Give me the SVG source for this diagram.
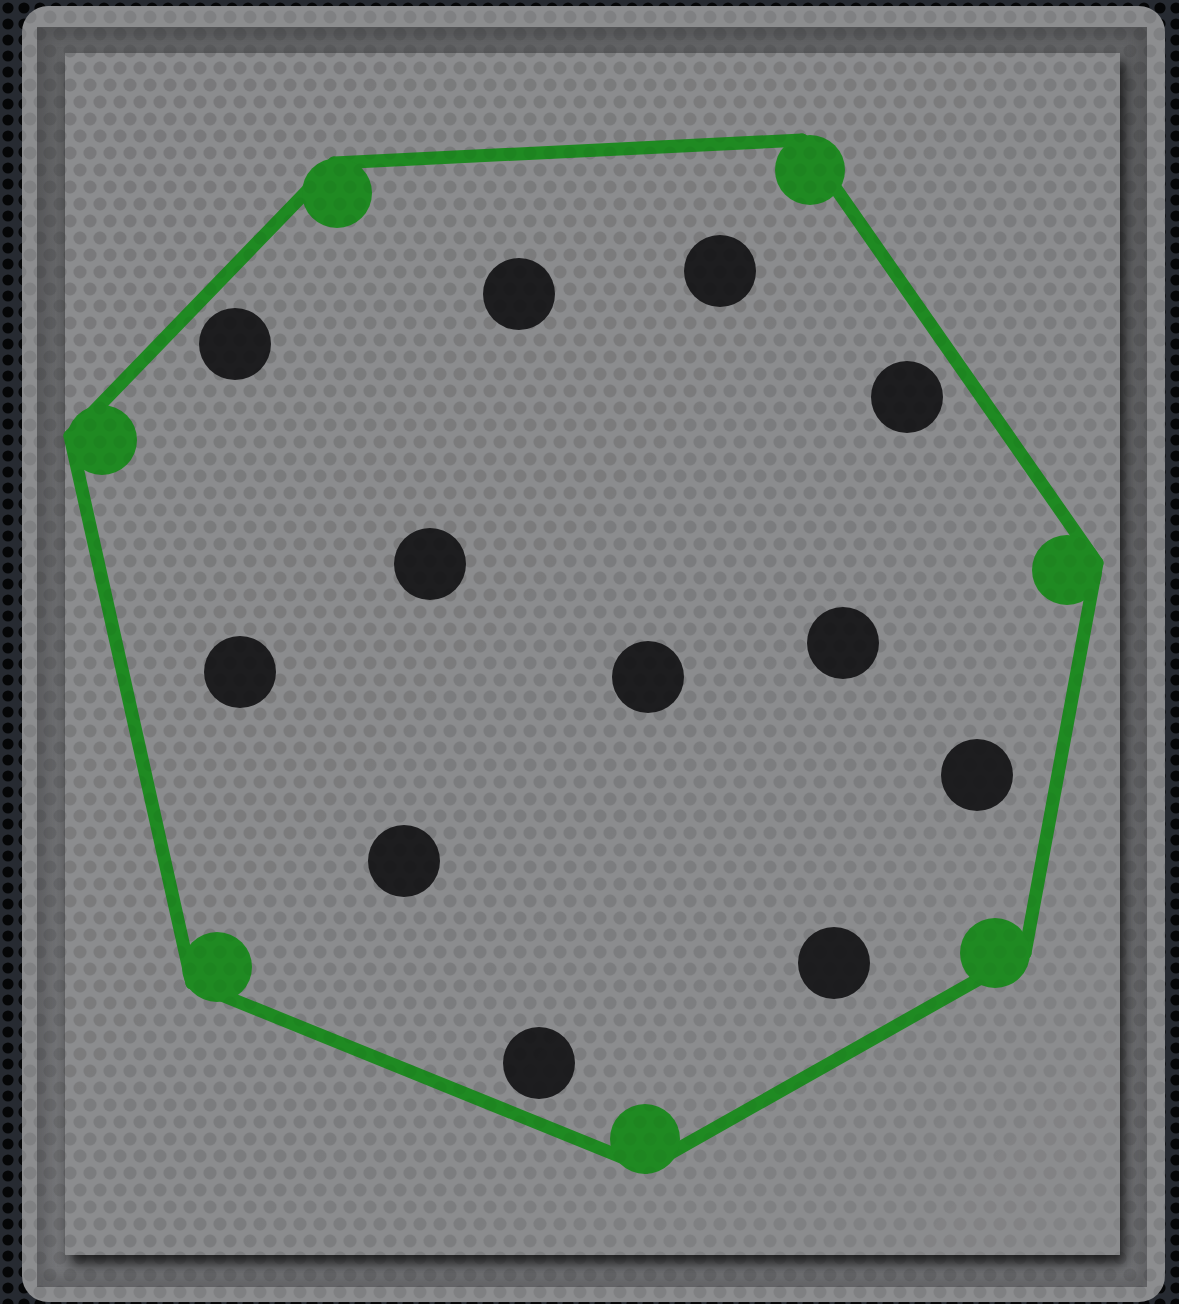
<svg xmlns="http://www.w3.org/2000/svg" width="1179" height="1304" viewBox="0 0 1179 1304">
  <defs>
    <pattern id="holes" width="16" height="16" patternUnits="userSpaceOnUse">
      <rect width="16" height="16" fill="#262a31"/>
      <circle cx="8" cy="8" r="5.6" fill="#050607"/>
    </pattern>
    <pattern id="dimples" width="20" height="34" patternUnits="userSpaceOnUse">
      <circle cx="0" cy="0" r="6.5" fill="#000" fill-opacity="0.09"/>
      <circle cx="20" cy="0" r="6.5" fill="#000" fill-opacity="0.09"/>
      <circle cx="10" cy="17" r="6.5" fill="#000" fill-opacity="0.09"/>
      <circle cx="0" cy="34" r="6.5" fill="#000" fill-opacity="0.09"/>
      <circle cx="20" cy="34" r="6.5" fill="#000" fill-opacity="0.09"/>
    </pattern>
    <linearGradient id="fade" x1="0" y1="0" x2="1" y2="1">
      <stop offset="0" stop-color="#fff" stop-opacity="1"/>
      <stop offset="0.6" stop-color="#fff" stop-opacity="0.8"/>
      <stop offset="1" stop-color="#fff" stop-opacity="0.35"/>
    </linearGradient>
    <mask id="fadeMask">
      <rect x="0" y="0" width="1179" height="1304" fill="url(#fade)"/>
    </mask>
    <filter id="panelShadow" x="-5%" y="-5%" width="112%" height="112%">
      <feGaussianBlur in="SourceAlpha" stdDeviation="7"/>
      <feOffset dx="5" dy="9" result="b"/>
      <feComponentTransfer><feFuncA type="linear" slope="0.75"/></feComponentTransfer>
      <feMerge><feMergeNode/><feMergeNode in="SourceGraphic"/></feMerge>
    </filter>
    <filter id="inset" x="-5%" y="-5%" width="110%" height="110%">
      <feGaussianBlur in="SourceGraphic" stdDeviation="8"/>
    </filter>
    <linearGradient id="recess" x1="0" y1="0" x2="0" y2="1">
      <stop offset="0" stop-color="#626365"/>
      <stop offset="1" stop-color="#76777a"/>
    </linearGradient>
    <clipPath id="recessClip">
      <rect x="37" y="27" width="1110" height="1260"/>
    </clipPath>
    <style>
      .hull { stroke: #1f8a22; stroke-width: 13; stroke-linecap: round; fill: none; }
      .hullpt { fill: #1f8a22; }
      .pt { fill: #1d1d1f; }
    </style>
  </defs>

  <!-- perforated background -->
  <rect x="0" y="0" width="1179" height="1304" fill="url(#holes)"/>

  <!-- outer frame -->
  <rect x="22" y="6" width="1143" height="1296" rx="26" ry="26" fill="#8c8d8f"/>
  <rect x="22" y="6" width="1143" height="1296" rx="26" ry="26" fill="url(#dimples)"/>

  <!-- recessed band -->
  <rect x="37" y="27" width="1110" height="1260" fill="url(#recess)"/>
  <g clip-path="url(#recessClip)">
    <rect x="37" y="27" width="1110" height="1260" fill="none" stroke="#404143" stroke-width="14" filter="url(#inset)" opacity="0.55"/>
    <rect x="37" y="27" width="1110" height="1260" fill="url(#dimples)"/>
  </g>

  <!-- panel -->
  <rect x="65" y="53" width="1055" height="1202" fill="#8b8c8e" filter="url(#panelShadow)"/>
  <rect x="65" y="53" width="1055" height="1202" fill="url(#dimples)" mask="url(#fadeMask)"/>

  <!-- connectors: convex hull -->
  <g id="connectors">
    <line class="hull" x1="70" y1="436" x2="334" y2="163"/>
    <line class="hull" x1="334" y1="163" x2="802" y2="140"/>
    <line class="hull" x1="802" y1="140" x2="1097" y2="563"/>
    <line class="hull" x1="1097" y1="563" x2="1025" y2="953"/>
    <line class="hull" x1="1025" y1="953" x2="646" y2="1167"/>
    <line class="hull" x1="646" y1="1167" x2="192" y2="983"/>
    <line class="hull" x1="192" y1="983" x2="70" y2="436"/>
  </g>

  <!-- hull points -->
  <g id="h1"><circle class="hullpt" cx="337" cy="193" r="35"/></g>
  <g id="h2"><circle class="hullpt" cx="810" cy="170" r="35"/></g>
  <g id="h3"><circle class="hullpt" cx="1067" cy="570" r="35"/></g>
  <g id="h4"><circle class="hullpt" cx="995" cy="953" r="35"/></g>
  <g id="h5"><circle class="hullpt" cx="645" cy="1139" r="35"/></g>
  <g id="h6"><circle class="hullpt" cx="217" cy="967" r="35"/></g>
  <g id="h7"><circle class="hullpt" cx="102" cy="440" r="35"/></g>

  <!-- interior points -->
  <g id="p1"><circle class="pt" cx="519" cy="294" r="36"/></g>
  <g id="p2"><circle class="pt" cx="720" cy="271" r="36"/></g>
  <g id="p3"><circle class="pt" cx="235" cy="344" r="36"/></g>
  <g id="p4"><circle class="pt" cx="907" cy="397" r="36"/></g>
  <g id="p5"><circle class="pt" cx="430" cy="564" r="36"/></g>
  <g id="p6"><circle class="pt" cx="240" cy="672" r="36"/></g>
  <g id="p7"><circle class="pt" cx="648" cy="677" r="36"/></g>
  <g id="p8"><circle class="pt" cx="843" cy="643" r="36"/></g>
  <g id="p9"><circle class="pt" cx="977" cy="775" r="36"/></g>
  <g id="p10"><circle class="pt" cx="404" cy="861" r="36"/></g>
  <g id="p11"><circle class="pt" cx="834" cy="963" r="36"/></g>
  <g id="p12"><circle class="pt" cx="539" cy="1063" r="36"/></g>

  <!-- texture overlay on panel content -->
  <rect x="65" y="53" width="1055" height="1202" fill="url(#dimples)" opacity="0.5" mask="url(#fadeMask)"/>
</svg>
